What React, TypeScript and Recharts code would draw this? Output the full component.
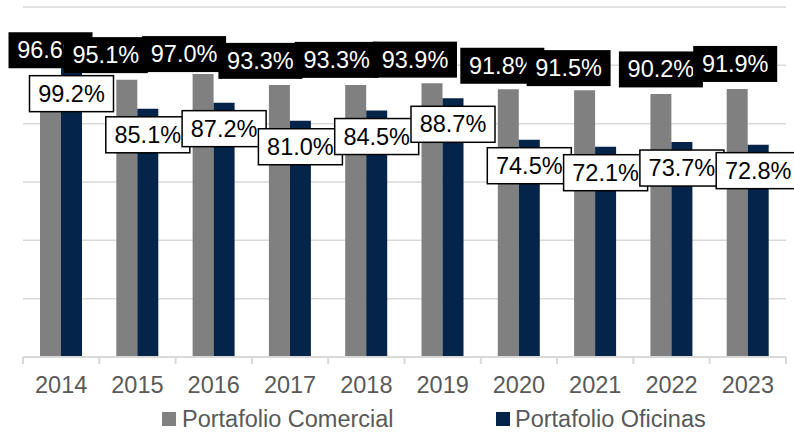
import React from 'react';
import { BarChart, Bar, XAxis, YAxis, CartesianGrid, LabelList } from 'recharts';

const years = ['2014', '2015', '2016', '2017', '2018', '2019', '2020', '2021', '2022', '2023'];
const comercial = [96.6, 95.1, 97.0, 93.3, 93.3, 93.9, 91.8, 91.5, 90.2, 91.9];
const oficinas = [99.2, 85.1, 87.2, 81.0, 84.5, 88.7, 74.5, 72.1, 73.7, 72.8];
const seriesNames = ['Portafolio Comercial', 'Portafolio Oficinas'];
const yTicks = [0, 20, 40, 60, 80, 100, 120];

// label nudges (layout only)
const grayDx = [0, -21, -19, -19, -19, -17, -6, -16, 0, -2];
const grayDy = [-25, -24.5, -20, -24, -25, -23.5, -23.5, -22, -24.5, -25];

const GRAY = '#808080';
const NAVY = '#042449';
const FONT = '"Liberation Sans", Arial, sans-serif';
const FS = 23.5;

const data = years.map((y, i) => ({ year: y, comercial: comercial[i], oficinas: oficinas[i] }));

const W = 794;
const H = 432;
const M = { top: 7, right: 8, left: 23, bottom: 35 };
const BAND = (W - M.left - M.right) / years.length;

const fmt = (v: number) => v.toFixed(1) + '%';

const GrayLabel = (props: any) => {
  const { x, y, width, index, value } = props;
  const cx = Number(x) + Number(width) / 2 + grayDx[index];
  const cy = Number(y) + grayDy[index];
  return (
    <g>
      <rect x={cx - 42} y={cy - 18} width={84} height={36} fill="#000" />
      <text x={cx} y={cy} textAnchor="middle" dominantBaseline="central" fill="#fff" fontSize={FS} fontFamily={FONT}>
        {fmt(Number(value))}
      </text>
    </g>
  );
};

const BlueLabel = (props: any) => {
  const { x, y, width, value } = props;
  const cx = Number(x) + Number(width) / 2;
  const cy = Number(y) + 26;
  return (
    <g>
      <rect x={cx - 42} y={cy - 18} width={84} height={36} fill="#fff" stroke="#000" strokeWidth={1.5} />
      <text x={cx} y={cy} textAnchor="middle" dominantBaseline="central" fill="#000" fontSize={FS} fontFamily={FONT}>
        {fmt(Number(value))}
      </text>
    </g>
  );
};

const Tick = (props: any) => {
  const { x, y, payload, index } = props;
  const last = index === years.length - 1;
  return (
    <g>
      <line x1={x - BAND / 2} x2={x - BAND / 2} y1={y} y2={y + 7} stroke="#d9d9d9" strokeWidth={2} />
      {last && <line x1={x + BAND / 2} x2={x + BAND / 2} y1={y} y2={y + 7} stroke="#d9d9d9" strokeWidth={2} />}
      <text x={x} y={y + 36} textAnchor="middle" fill="#595959" fontSize={FS} fontFamily={FONT}>
        {payload.value}
      </text>
    </g>
  );
};

export default function App() {
  return (
    <div style={{ position: 'absolute', left: 0, top: 0, width: W, height: H, background: '#fff' }}>
      <BarChart width={W} height={H} data={data} margin={M} barGap={0} barSize={21}>
        <CartesianGrid vertical={false} stroke="#d9d9d9" strokeWidth={1.5} />
        <YAxis hide domain={[0, 120]} ticks={yTicks} />
        <XAxis
          dataKey="year"
          height={40}
          tickSize={0}
          tickMargin={0}
          tickLine={false}
          axisLine={{ stroke: '#d9d9d9', strokeWidth: 2 }}
          tick={<Tick />}
          interval={0}
        />
        <Bar dataKey="comercial" name={seriesNames[0]} fill={GRAY} isAnimationActive={false}>
          <LabelList dataKey="comercial" content={<GrayLabel />} />
        </Bar>
        <Bar dataKey="oficinas" name={seriesNames[1]} fill={NAVY} isAnimationActive={false}>
          <LabelList dataKey="oficinas" content={<BlueLabel />} />
        </Bar>
      </BarChart>
      <div style={{ position: 'absolute', left: 162, top: 405, height: 28, display: 'flex', alignItems: 'center', fontFamily: FONT, fontSize: FS, color: '#595959', whiteSpace: 'nowrap' }}>
        <span style={{ display: 'inline-block', width: 14, height: 14, background: GRAY, marginRight: 6 }} />
        <span>{seriesNames[0]}</span>
      </div>
      <div style={{ position: 'absolute', left: 496, top: 405, height: 28, display: 'flex', alignItems: 'center', fontFamily: FONT, fontSize: FS, color: '#595959', whiteSpace: 'nowrap' }}>
        <span style={{ display: 'inline-block', width: 14, height: 14, background: NAVY, marginRight: 5 }} />
        <span>{seriesNames[1]}</span>
      </div>
    </div>
  );
}
